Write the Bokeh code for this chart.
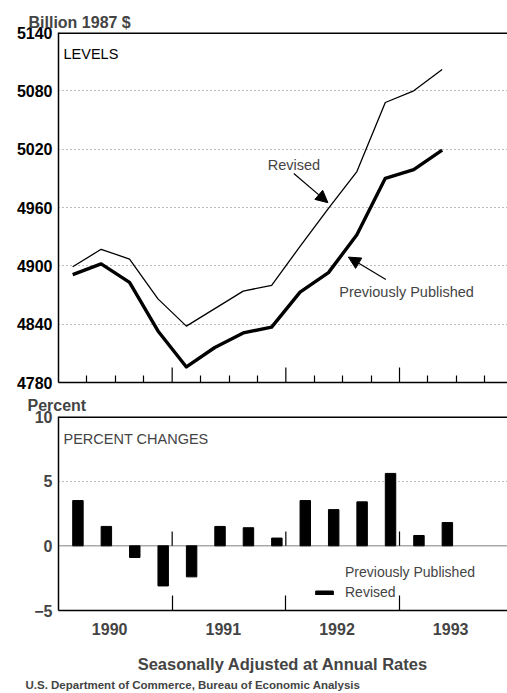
from bokeh.plotting import figure
from bokeh.models import (FixedTicker, Label, Arrow, NormalHead, Span, Title,
                          Legend, LegendItem, Range1d, ColumnDataSource)
from bokeh.layouts import column
from bokeh.embed import file_html
from bokeh.resources import INLINE

# ---------------- data ----------------
quarters = ["1990Q1", "1990Q2", "1990Q3", "1990Q4",
            "1991Q1", "1991Q2", "1991Q3", "1991Q4",
            "1992Q1", "1992Q2", "1992Q3", "1992Q4",
            "1993Q1", "1993Q2"]
revised_level = [4899, 4917, 4907, 4866, 4838, 4856, 4874, 4880,
                 4920, 4959, 4997, 5068, 5080, 5102]
prev_level = [4891, 4902, 4883, 4833, 4796, 4816, 4831, 4837,
              4873, 4893, 4932, 4990, 4999, 5019]
revised_pct = [3.5, 1.5, -0.9, -3.1, -2.4, 1.5, 1.4, 0.6,
               3.5, 2.8, 3.4, 5.6, 0.8, 1.8]
years = ["1990", "1991", "1992", "1993"]
level_ticks = [4780, 4840, 4900, 4960, 5020, 5080, 5140]
pct_ticks = [-5, 0, 5, 10]

# ---------------- derived positions ----------------
def qpos(q):
    return int(q[:4]) + (int(q[5]) - 0.5) / 4.0

x_mid = [qpos(q) for q in quarters]
year_start = [int(y) for y in years]
year_bounds = year_start[1:] + [year_start[-1] + 1]
year_label_pos = [y + 0.45 for y in year_start]
quarter_bounds = [y + k / 4.0 for y in year_start for k in range(1, 4)]
BAR_W = 0.092
x_rev_bar = [x + BAR_W / 2 for x in x_mid]

FONT = "Liberation Sans"
X0, X1 = 1990, 1993.95
LEVEL_TICK = 15.5      # long year tick height in level units (~15px)
PCT_TICK = 1.1         # year tick height on zero line in percent units

# ---------------- top panel: levels ----------------
p1 = figure(width=507, height=390, x_range=Range1d(X0, X1),
            y_range=Range1d(level_ticks[0], level_ticks[-1]),
            output_backend="svg", toolbar_location=None,
            min_border_left=58, min_border_right=0, min_border_top=32,
            min_border_bottom=8)
p1.outline_line_color = None

p1.title = Title(text="Billion 1987 $", align="left", offset=-30,
                 text_font=FONT, text_font_size="16px",
                 text_font_style="bold", standoff=4)

p1.xaxis.ticker = FixedTicker(ticks=[], minor_ticks=quarter_bounds)
p1.xaxis.major_label_standoff = 0
p1.xaxis.major_tick_in = 0
p1.xaxis.major_tick_out = 0
p1.xaxis.minor_tick_in = 7
p1.xaxis.minor_tick_out = 0
p1.xaxis.axis_line_width = 1.5
p1.xaxis.minor_tick_line_width = 1.2

p1.yaxis.ticker = FixedTicker(ticks=level_ticks)
p1.yaxis.major_tick_in = 0
p1.yaxis.major_tick_out = 0
p1.yaxis.minor_tick_line_color = None
p1.yaxis.axis_line_width = 1.5
p1.yaxis.major_label_standoff = 6
p1.yaxis.major_label_text_font = FONT
p1.yaxis.major_label_text_font_size = "16px"
p1.yaxis.major_label_text_font_style = "bold"
p1.yaxis.major_label_text_color = "black"

p1.xgrid.visible = False
p1.ygrid.ticker = FixedTicker(ticks=level_ticks[1:-1])
p1.ygrid.grid_line_color = "#777777"
p1.ygrid.grid_line_dash = "1 3"
p1.ygrid.grid_line_width = 1

p1.add_layout(Span(location=level_ticks[-1], dimension="width",
                   line_color="black", line_width=3))

# long year ticks standing on the bottom axis
p1.segment(x0=year_bounds, x1=year_bounds,
           y0=[level_ticks[0]] * len(year_bounds),
           y1=[level_ticks[0] + LEVEL_TICK] * len(year_bounds),
           line_color="black", line_width=1.2)

src1 = ColumnDataSource(dict(x=x_mid, rev=revised_level, prev=prev_level))
p1.line("x", "rev", source=src1, line_color="black", line_width=1.3,
        line_join="round")
p1.line("x", "prev", source=src1, line_color="black", line_width=3.4,
        line_join="round")

p1.add_layout(Label(x=X0, y=level_ticks[-1], x_offset=5, y_offset=-21,
                    text="LEVELS", text_font=FONT, text_font_size="14.5px",
                    text_baseline="middle", text_color="black"))

# annotations (text + arrows) in data coordinates
p1.add_layout(Label(x=1991.84, y=5004, text="Revised", text_font=FONT,
                    text_font_size="14.5px", text_baseline="middle"))
p1.add_layout(Arrow(end=NormalHead(size=12, fill_color="black",
                                   line_color="black"),
                    x_start=1992.07, y_start=4995, x_end=1992.37, y_end=4965,
                    line_width=1.2, line_color="black"))
p1.add_layout(Label(x=1992.47, y=4873, text="Previously Published",
                    text_font=FONT, text_font_size="14.5px",
                    text_baseline="middle"))
p1.add_layout(Arrow(end=NormalHead(size=12, fill_color="black",
                                   line_color="black"),
                    x_start=1992.88, y_start=4886, x_end=1992.55, y_end=4909,
                    line_width=1.2, line_color="black"))

# ---------------- bottom panel: percent changes ----------------
p2 = figure(width=507, height=303, x_range=Range1d(X0, X1),
            y_range=Range1d(pct_ticks[0], pct_ticks[-1]),
            output_backend="svg", toolbar_location=None,
            min_border_left=58, min_border_right=0, min_border_top=26,
            min_border_bottom=83)
p2.outline_line_color = None

p2.title = Title(text="Percent", align="left", offset=-31,
                 text_font=FONT, text_font_size="16px",
                 text_font_style="bold", standoff=5)

p2.xaxis.ticker = FixedTicker(ticks=year_label_pos, minor_ticks=year_bounds[:-1])
p2.xaxis.major_label_overrides = {m: y for m, y in zip(year_label_pos, years)}
p2.xaxis.major_tick_in = 0
p2.xaxis.major_tick_out = 0
p2.xaxis.minor_tick_in = 15
p2.xaxis.minor_tick_out = 0
p2.xaxis.minor_tick_line_width = 1.2
p2.xaxis.axis_line_width = 1.5
p2.xaxis.major_label_standoff = 12
p2.xaxis.major_label_text_font = FONT
p2.xaxis.major_label_text_font_size = "16px"
p2.xaxis.major_label_text_font_style = "bold"
p2.xaxis.axis_label = "Seasonally Adjusted at Annual Rates"
p2.xaxis.axis_label_text_font = FONT
p2.xaxis.axis_label_text_font_size = "16.5px"
p2.xaxis.axis_label_text_font_style = "bold"
p2.xaxis.axis_label_standoff = 17

p2.yaxis.ticker = FixedTicker(ticks=pct_ticks)
p2.yaxis.major_tick_in = 0
p2.yaxis.major_tick_out = 0
p2.yaxis.minor_tick_line_color = None
p2.yaxis.axis_line_width = 1.5
p2.yaxis.major_label_standoff = 6
p2.yaxis.major_label_text_font = FONT
p2.yaxis.major_label_text_font_size = "16px"
p2.yaxis.major_label_text_font_style = "bold"

p2.xgrid.visible = False
p2.ygrid.ticker = FixedTicker(ticks=[5])
p2.ygrid.grid_line_color = "#777777"
p2.ygrid.grid_line_dash = "1 3"

p2.add_layout(Span(location=0, dimension="width", line_color="black",
                   line_dash="1 1", line_width=1))
p2.add_layout(Span(location=pct_ticks[-1], dimension="width",
                   line_color="black", line_width=3))

# year ticks standing on the zero line
p2.segment(x0=year_bounds[:-1], x1=year_bounds[:-1],
           y0=[0] * 3, y1=[PCT_TICK] * 3,
           line_color="black", line_width=1.2)

prev_r = p2.vbar(x=[], top=[], width=BAR_W, fill_color="white",
                 line_color=None)
rev_r = p2.vbar(x=x_rev_bar, top=revised_pct, width=BAR_W, bottom=0,
                fill_color="black", line_color="black")

p2.add_layout(Label(x=X0, y=pct_ticks[-1], x_offset=5, y_offset=-22,
                    text="PERCENT CHANGES", text_font=FONT,
                    text_font_size="14.5px", text_baseline="middle"))

legend = Legend(items=[LegendItem(label="Previously Published", renderers=[prev_r]),
                       LegendItem(label="Revised", renderers=[rev_r])],
                location=(255, 9), orientation="vertical",
                glyph_width=22, glyph_height=5, label_height=18,
                label_standoff=10, spacing=2, padding=0, margin=0,
                border_line_color=None, background_fill_alpha=0,
                label_text_font=FONT, label_text_font_size="14px")
p2.add_layout(legend)

p2.add_layout(Title(text="U.S. Department of Commerce, Bureau of Economic Analysis",
                    align="left", offset=-33, text_font=FONT,
                    text_font_size="11.5px", text_font_style="bold", standoff=3),
              "below")

layout = column(p1, p2, spacing=0)
open("out.html", "w").write(file_html(layout, INLINE))
